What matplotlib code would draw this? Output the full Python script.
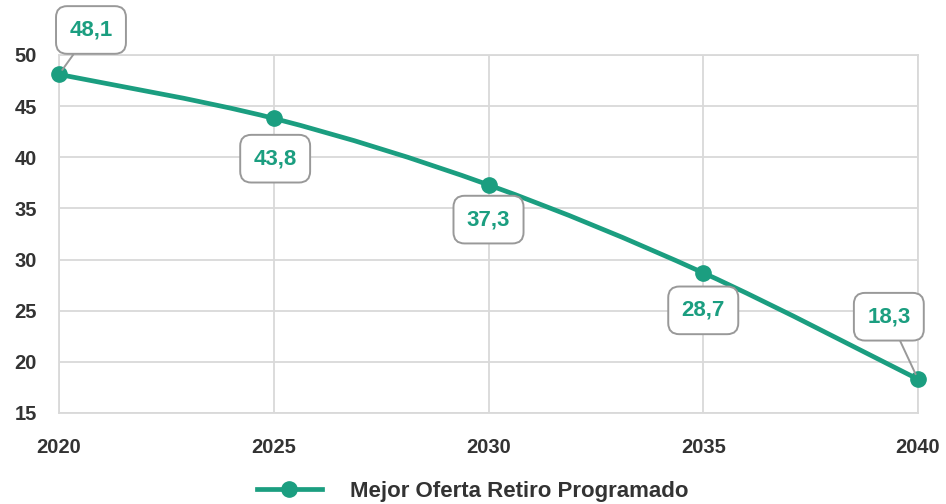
import matplotlib.pyplot as plt
from matplotlib.path import Path
from matplotlib.patches import PathPatch

# data
years = [2020, 2025, 2030, 2035, 2040]
values = [48.1, 43.8, 37.3, 28.7, 18.3]
labels = ["48,1", "43,8", "37,3", "28,7", "18,3"]
series_name = "Mejor Oferta Retiro Programado"

TEAL = "#1b9e80"
GRID = "#d9d9d9"
TEXT = "#333333"

plt.rcParams["font.family"] = ["Liberation Sans", "DejaVu Sans"]
plt.rcParams["font.weight"] = "bold"

fig = plt.figure(figsize=(9.46, 5.04), dpi=100)
ax = fig.add_axes([0.0624, 0.1806, 0.908, 0.7103])


def smooth_path(xs, ys, t=0.5):
    # catmull-rom style bezier through the points (drawing only)
    verts = [(xs[0], ys[0])]
    codes = [Path.MOVETO]
    n = len(xs)
    for i in range(n - 1):
        x0, y0 = (xs[i - 1], ys[i - 1]) if i > 0 else (xs[i], ys[i])
        x1, y1 = xs[i], ys[i]
        x2, y2 = xs[i + 1], ys[i + 1]
        x3, y3 = (xs[i + 2], ys[i + 2]) if i + 2 < n else (xs[i + 1], ys[i + 1])
        c1 = (x1 + (x2 - x0) * t / 3, y1 + (y2 - y0) * t / 3)
        c2 = (x2 - (x3 - x1) * t / 3, y2 - (y3 - y1) * t / 3)
        verts += [c1, c2, (x2, y2)]
        codes += [Path.CURVE4] * 3
    return Path(verts, codes)


ax.add_patch(PathPatch(smooth_path(years, values), facecolor="none",
                       edgecolor=TEAL, lw=3.4, capstyle="round", zorder=3,
                       clip_on=False))
ax.plot(years, values, "o", color=TEAL, markersize=11, zorder=4, clip_on=False)

# value labels (offsets in points)
offsets = [(23, 32), (1, -29), (0, -25), (0, -27), (-21, 45)]
for x, y, txt, off in zip(years, values, labels, offsets):
    leader = off[0] != 0 and abs(off[0]) > 5
    ax.annotate(txt, (x, y), xytext=off, textcoords="offset points",
                ha="center", va="center", color=TEAL, fontsize=16,
                fontweight="bold", zorder=5,
                bbox=dict(boxstyle="round,pad=0.6,rounding_size=0.5",
                          fc="white", ec="#999999", lw=1.4),
                arrowprops=dict(arrowstyle="-", color="#999999", lw=1.4,
                                shrinkA=0, shrinkB=4) if leader else None)

ax.set_xlim(2020, 2040)
ax.set_ylim(15, 50)
ax.set_xticks(years)
ax.set_yticks(range(15, 51, 5))
ax.grid(True, color=GRID, lw=1.3)
ax.set_axisbelow(True)
for s in ax.spines.values():
    s.set_color(GRID)
    s.set_linewidth(1.3)
ax.tick_params(length=0, labelsize=14.5, labelcolor=TEXT)
ax.tick_params(axis="y", pad=16)
ax.tick_params(axis="x", pad=18)
for lab in ax.get_xticklabels() + ax.get_yticklabels():
    lab.set_fontweight("bold")

leg_line, = ax.plot([], [], "-o", color=TEAL, lw=3.4, markersize=11)
fig.legend([leg_line], [series_name], loc="lower center",
           bbox_to_anchor=(0.5, -0.035), frameon=False,
           labelcolor=TEXT, handlelength=2.9, handletextpad=1.3,
           prop={"weight": "bold", "size": 16})

fig.savefig("out.png", dpi=100)
